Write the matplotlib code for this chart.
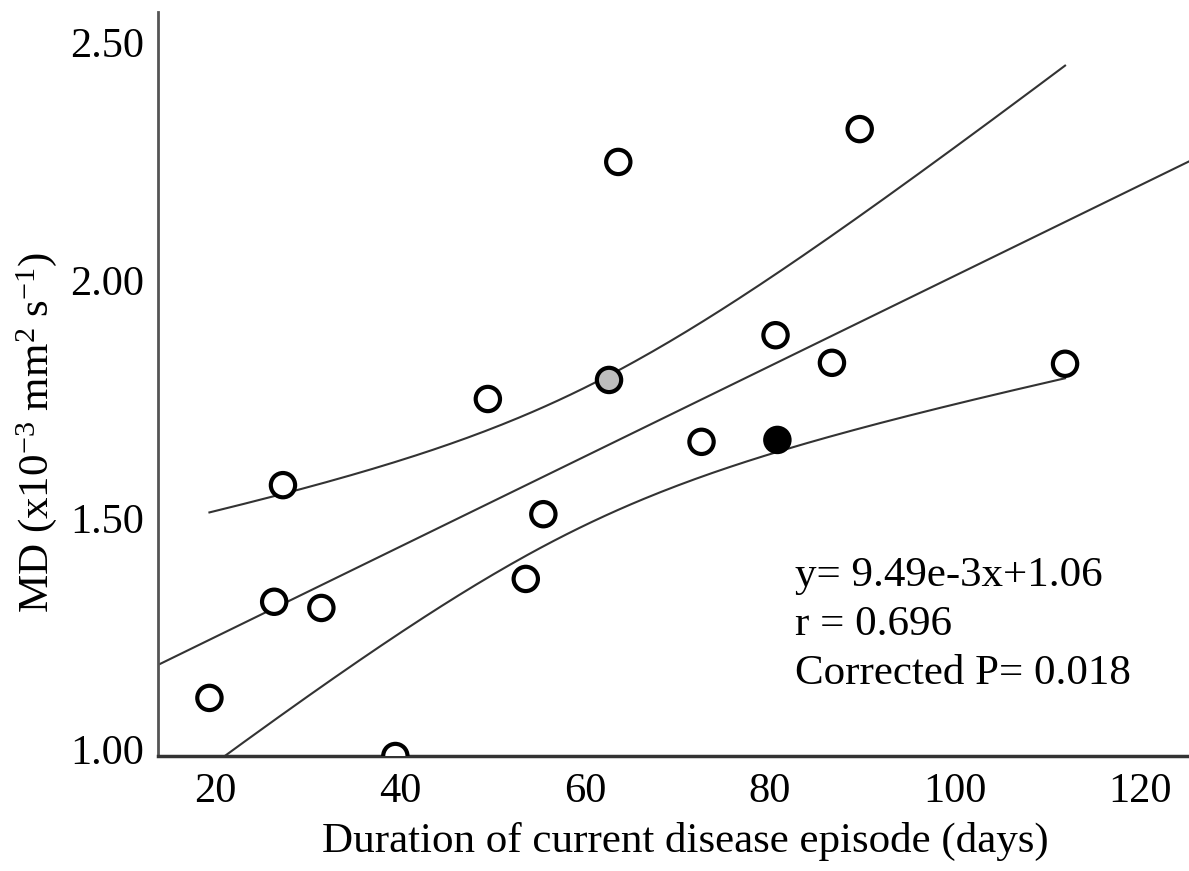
import numpy as np
import matplotlib.pyplot as plt
import matplotlib.transforms as mtransforms

# duration of current disease episode (days) vs MD
days = [19.4, 26.4, 27.35, 31.5, 39.5, 49.5, 53.6, 55.5, 62.6, 63.6,
        72.6, 80.6, 80.8, 86.7, 89.7, 111.9]
md = [1.122, 1.324, 1.569, 1.311, 1.00, 1.750, 1.372, 1.508, 1.790, 2.248,
      1.660, 1.884, 1.664, 1.826, 2.317, 1.824]
# face colours: one grey and one black case, rest open
faces = ['white'] * 16
faces[8] = '#bdbdbd'
faces[12] = 'black'

slope = 9.49e-3
intercept = 1.06
t_crit = 2.145  # t(0.975, df=14)

xticks = [20, 40, 60, 80, 100, 120]
yticks = [1.00, 1.50, 2.00, 2.50]

plt.rcParams['font.family'] = ['Liberation Serif', 'DejaVu Serif']
plt.rcParams['mathtext.fontset'] = 'custom'
plt.rcParams['mathtext.rm'] = 'Liberation Serif'
plt.rcParams['mathtext.it'] = 'Liberation Serif:italic'


def main():
    fig = plt.figure(figsize=(11.89, 8.71), dpi=100)
    ax = fig.add_axes([158 / 1189, 1 - 756 / 871, 1 - 158 / 1189, (756 - 12) / 871])

    x = np.array(days)
    y = np.array(md)
    n = len(x)
    xlim = (13.84, 125.3)

    # fit line across the whole axis
    xl = np.linspace(xlim[0], xlim[1], 200)
    ax.plot(xl, intercept + slope * xl, color='#333333', lw=1.5, zorder=2)

    # 95% CI of the mean, from min to max x
    resid = y - (intercept + slope * x)
    s = np.sqrt(np.sum(resid ** 2) / (n - 2))
    sxx = np.sum((x - x.mean()) ** 2)
    xb = np.linspace(x.min(), x.max(), 200)
    half = t_crit * s * np.sqrt(1 / n + (xb - x.mean()) ** 2 / sxx)
    fit = intercept + slope * xb
    ax.plot(xb, fit + half, color='#333333', lw=1.5, zorder=2)
    ax.plot(xb, fit - half, color='#333333', lw=1.5, zorder=2)

    ax.scatter(x, y, s=17.5 ** 2, c=faces, edgecolors='black', linewidths=3.0,
               zorder=3, clip_on=True)

    ax.set_xlim(*xlim)
    ax.set_ylim(1.0, 2.563)
    ax.set_xticks(xticks)
    ax.set_yticks(yticks)
    ax.set_yticklabels([f'{v:.2f}' for v in yticks])
    ax.tick_params(length=0, labelsize=30.5)
    ax.tick_params(axis='x', pad=12)
    ax.tick_params(axis='y', pad=10)

    # bottom y label sits a little above the axis line
    lab = ax.get_yticklabels()[0]
    lab.set_transform(lab.get_transform() +
                      mtransforms.ScaledTranslation(0, 7 / 100, fig.dpi_scale_trans))

    for side in ['top', 'right']:
        ax.spines[side].set_visible(False)
    ax.spines['left'].set_color('#555555')
    ax.spines['left'].set_linewidth(2.0)
    ax.spines['bottom'].set_color('#333333')
    ax.spines['bottom'].set_linewidth(2.5)

    ax.set_xlabel('Duration of current disease episode (days)', fontsize=31)
    ax.xaxis.set_label_coords((685 - 158) / 1031, -(841 - 756) / 744)
    ax.set_ylabel(r'MD (x10$^{\mathrm{-3}}$ mm$^{\mathrm{2}}$ s$^{\mathrm{-1}}$)', fontsize=31)
    ax.yaxis.set_label_coords(-(158 - 37) / 1031, (756 - 432) / 744)
    ax.yaxis.label.set_va('center')
    ax.xaxis.label.set_va('center')

    ax.text(0.618, 0.176, 'y= 9.49e-3x+1.06\nr = 0.696\nCorrected P= 0.018',
            transform=ax.transAxes, fontsize=31, va='center', ha='left',
            linespacing=1.36)

    fig.savefig('out.png', dpi=100)


if __name__ == "__main__":
    main()
